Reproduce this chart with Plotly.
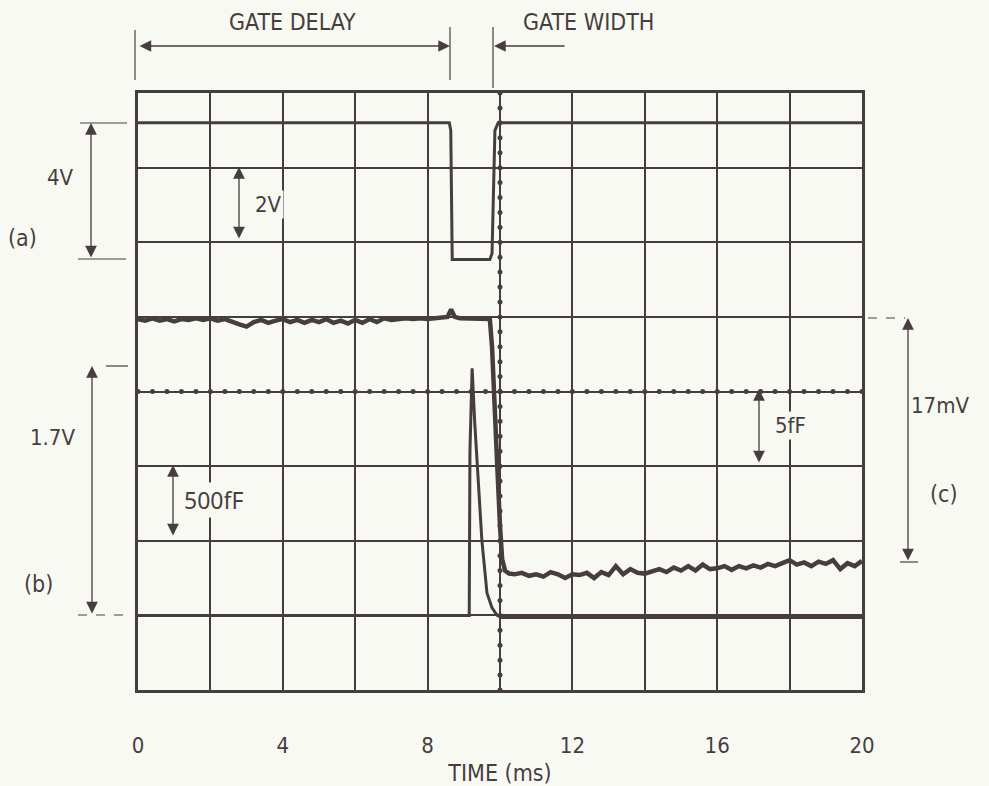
import numpy as np
import plotly.graph_objects as go

# ---- data (time in ms, vertical position in graticule divisions 0..8) ----
a_t = [0, 8.60, 8.64, 8.68, 9.72, 9.78, 9.86, 9.95, 20]
a_v = [7.60, 7.60, 7.50, 5.77, 5.77, 5.85, 7.50, 7.60, 7.60]

b_t = [0, 9.15, 9.17, 9.23, 9.30, 9.40, 9.50, 9.64, 9.78, 9.92, 10.05, 20]
b_v = [1.00, 1.00, 3.20, 4.31, 3.60, 2.80, 2.00, 1.30, 1.10, 1.00, 0.97, 0.97]

c_t = [0.0, 0.2, 0.4, 0.6, 0.8, 1.0, 1.2, 1.4, 1.6, 1.8, 2.0, 2.2, 2.4, 2.6, 2.8,
       3.0, 3.2, 3.4, 3.6, 3.8, 4.0, 4.2, 4.4, 4.6, 4.8, 5.0, 5.2, 5.4, 5.6, 5.8,
       6.0, 6.2, 6.4, 6.6, 6.8, 7.0, 7.2, 7.4, 7.6, 7.8, 8.0, 8.2, 8.4, 8.55, 8.65,
       8.75, 8.9, 9.1, 9.3, 9.5, 9.72,
       9.78, 9.84, 9.92, 10.0, 10.06, 10.14, 10.25,
       10.4, 10.6, 10.8, 11.0, 11.2, 11.4, 11.6, 11.8, 12.0, 12.2, 12.4, 12.6, 12.8,
       13.0, 13.2, 13.4, 13.6, 13.8, 14.0, 14.2, 14.4, 14.6, 14.8, 15.0, 15.2, 15.4,
       15.6, 15.8, 16.0, 16.2, 16.4, 16.6, 16.8, 17.0, 17.2, 17.4, 17.6, 17.8, 18.0,
       18.2, 18.4, 18.6, 18.8, 19.0, 19.2, 19.4, 19.6, 19.8, 20.0]
c_v = [4.97, 4.95, 4.98, 4.95, 4.97, 4.94, 4.97, 4.96, 4.98, 4.96, 4.98, 4.95, 4.97, 4.93, 4.90,
       4.87, 4.93, 4.96, 4.92, 4.95, 4.97, 4.93, 4.96, 4.92, 4.96, 4.93, 4.97, 4.92, 4.95, 4.91,
       4.96, 4.92, 4.97, 4.93, 4.98, 4.96, 4.97, 4.98, 4.97, 4.98, 4.97, 4.98, 4.98, 5.00, 5.10,
       5.00, 4.98, 4.98, 4.97, 4.97, 4.97,
       4.60, 3.80, 3.05, 2.20, 1.75, 1.60, 1.56,
       1.55, 1.57, 1.53, 1.55, 1.52, 1.58, 1.55, 1.50, 1.55, 1.54, 1.57, 1.50, 1.58,
       1.54, 1.66, 1.55, 1.62, 1.57, 1.56, 1.59, 1.62, 1.58, 1.64, 1.60, 1.66, 1.60,
       1.68, 1.62, 1.63, 1.66, 1.61, 1.66, 1.63, 1.67, 1.64, 1.69, 1.66, 1.70, 1.74,
       1.68, 1.71, 1.66, 1.72, 1.69, 1.74, 1.62, 1.70, 1.66, 1.73]

x_ticks = [0, 4, 8, 12, 16, 20]

INK = "#463e3e"
BG = "#f9f9f3"
FONT = "DejaVu Sans Condensed, Liberation Sans Narrow, Arial Narrow, sans-serif"
FONT2 = "Noto Sans, DejaVu Sans, sans-serif"

W, H = 989, 786
L, R, T, B = 138, 127, 93, 96
PW, PH = W - L - R, H - T - B


def px(x):
    return (x - L) / PW


def py(y):
    return (H - B - y) / PH


fig = go.Figure()

# graticule centre-line dots
hx = np.arange(0, 20.001, 0.4)
fig.add_trace(go.Scatter(x=hx, y=np.full_like(hx, 4.0), mode="markers",
                         marker=dict(size=5, color=INK), hoverinfo="skip"))
vy = np.arange(0, 8.001, 0.2)
fig.add_trace(go.Scatter(x=np.full_like(vy, 10.0), y=vy, mode="markers",
                         marker=dict(size=5, color=INK), hoverinfo="skip"))

for t, v, w in [(a_t, a_v, 3), (b_t, b_v, 3), (c_t, c_v, 4.5)]:
    fig.add_trace(go.Scatter(x=t, y=v, mode="lines",
                             line=dict(color=INK, width=w), hoverinfo="skip"))

shapes = []
annots = []


def pline(x0, y0, x1, y1, width=1.2, dash="solid"):
    shapes.append(dict(type="line", xref="paper", yref="paper",
                       x0=px(x0), y0=py(y0), x1=px(x1), y1=py(y1),
                       line=dict(color=INK, width=width, dash=dash)))


def text(x, y, s, size=22, bg=None, family=FONT):
    d = dict(xref="paper", yref="paper", x=px(x), y=py(y), text=s,
             showarrow=False, font=dict(family=family, size=size, color=INK),
             xanchor="center", yanchor="middle")
    if bg:
        d["bgcolor"] = bg
    annots.append(d)


def arrow(x0, y0, x1, y1, both=True, width=1.3):
    # head at (x1, y1), tail at (x0, y0); pixel offsets
    annots.append(dict(xref="paper", yref="paper", x=px(x1), y=py(y1),
                       ax=x0 - x1, ay=y0 - y1, axref="pixel", ayref="pixel",
                       text="", showarrow=True, arrowhead=2, arrowsize=1.8,
                       arrowwidth=width, arrowcolor=INK, standoff=0, startstandoff=0,
                       startarrowhead=2, startarrowsize=1.8,
                       arrowside="end+start" if both else "end"))


# GATE DELAY / GATE WIDTH
text(292, 22, "GATE DELAY", size=23)
text(588, 22, "GATE WIDTH", size=23)
arrow(138, 46, 450, 46)
pline(135, 30, 135, 80)
pline(450, 27, 450, 80)
pline(493, 27, 493, 88)
arrow(566, 46, 494, 46, both=False)

# (a)
text(60, 177, "4V")
arrow(91, 259, 91, 123)
pline(80, 123, 127, 123)
pline(78, 259, 126, 259)
text(22, 238, "(a)", size=23)
text(268, 205, "2V", bg=BG)
arrow(239, 240, 239, 167)

# (b)
text(52, 438, "1.7V")
arrow(92, 615, 92, 366)
pline(106, 366, 128, 366)
pline(78, 615, 128, 615, dash="dash")
text(38, 584, "(b)", size=23)
text(213, 500, "500fF", size=23, bg=BG, family=FONT2)
arrow(173, 537, 173, 465)

# (c)
text(790, 425, "5fF", bg=BG)
arrow(759, 464, 759, 389)
text(940, 405, "17mV")
arrow(908, 562, 908, 318)
pline(868, 318, 905, 318, dash="dash")
pline(900, 562, 918, 562)
text(944, 494, "(c)", size=23)

fig.update_layout(
    width=W, height=H, margin=dict(l=L, r=R, t=T, b=B, autoexpand=False),
    paper_bgcolor=BG, plot_bgcolor=BG, showlegend=False,
    font=dict(family=FONT, color=INK, size=22),
    shapes=shapes, annotations=annots,
    xaxis=dict(range=[0, 20], tickvals=x_ticks, ticktext=[str(v) for v in x_ticks],
               showgrid=True, gridcolor=INK, gridwidth=2,
               minor=dict(dtick=2, tick0=0, showgrid=True, gridcolor=INK, gridwidth=2),
               zeroline=False, showline=True, mirror=True, linecolor=INK, linewidth=3,
               ticks="", ticklabelstandoff=34, automargin=False,
               tickfont=dict(size=22, family=FONT),
               title=dict(text="TIME (ms)", font=dict(size=23, family=FONT), standoff=16)),
    yaxis=dict(range=[0, 8], dtick=1, tick0=0, showticklabels=False, automargin=False,
               showgrid=True, gridcolor=INK, gridwidth=2, zeroline=False,
               showline=True, mirror=True, linecolor=INK, linewidth=3, ticks=""),
)

fig.write_html("out.html")
